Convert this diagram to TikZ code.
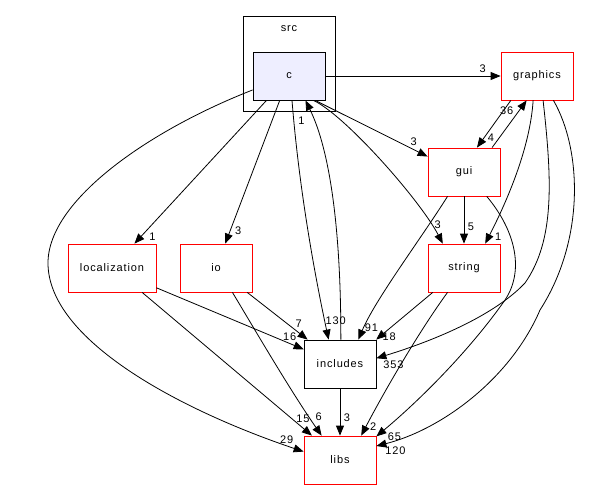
\documentclass[tikz,border=0pt]{standalone}
\usepackage{fontspec}
\setmainfont{Liberation Sans}[LetterSpace=8]
\usetikzlibrary{arrows.meta,positioning}

\begin{document}
\begin{tikzpicture}[x=1pt,y=-1pt,node distance=96pt,on grid,
  >={Triangle[length=10pt,width=8pt]},line width=0.8pt,
  font=\fontsize{11}{13}\selectfont]
 \tikzset{dir/.style={draw=red,minimum width=72pt,minimum height=48pt,inner sep=0pt},
  lbl/.style={inner sep=0pt,font=\fontsize{11}{13}\selectfont}}
\useasboundingbox (0,0) rectangle (590,499);

\node[draw,minimum width=92pt,minimum height=95pt,anchor=north west] (src) at (243,16) {};
\node (srcname) at (289,29) {src};
\node[draw,fill={rgb,255:red,238;green,238;blue,255},minimum width=72pt,minimum height=48pt] (c) at (289,76) {c};
\node[dir] (graphics) [right=248pt of c] {graphics};
\node[dir] (gui) [below left=96pt and 73pt of graphics] {gui};
\node[dir] (string) [below=of gui] {string};
\node[draw,minimum width=72pt,minimum height=48pt] (includes) [below left=96pt and 124pt of string] {includes};
\node[dir] (libs) [below=of includes] {libs};
\node[dir] (io) [left=248pt of string] {io};
\node[dir,minimum width=88pt] (localization) [left=104pt of io] {localization};

% from c
\draw[->] (c) -- (graphics) node[lbl,at end,shift={(-18,-7)}] {3};
\draw[->] (c.-43) -- (gui.157) node[lbl,at end,shift={(-14,-15)}] {3};
\draw[->] (c.-45) .. controls (345,115) and (420,200) .. (string.131) node[lbl,at end,shift={(-5,-19)}] {3};
\draw[->] (c) -- (localization) node[lbl,at end,shift={(18,-7)}] {1};
\draw[->] (c) -- (io) node[lbl,at end,shift={(13,-13)}] {3};
\draw[->] (c.-83) .. controls (300,200) and (318,290) .. (includes.115) node[lbl,at end,shift={(7,-19)}] {130};
\draw[->] (c.-159) .. controls (150,130) and (48,200) .. (48,263) .. controls (48,340) and (180,410) .. (libs.167) node[lbl,at end,shift={(-17,-12)}] {29};
\draw[->] (includes.88) .. controls (341,230) and (330,150) .. (c.-56) node[lbl,at end,shift={(-4,20)}] {1};

% from graphics and gui
\draw[->] (graphics.-137) -- (gui.62) node[lbl,at end,shift={(14,-10)}] {4};
\draw[->] (gui.41) -- (graphics.-113) node[lbl,at end,shift={(-20,10)}] {36};
\draw[->] (graphics.-99) .. controls (530,150) and (505,205) .. (string.49) node[lbl,at end,shift={(13,-7)}] {1};
\draw[->] (graphics.-76) .. controls (552,180) and (555,240) .. (525,283) .. controls (490,320) and (420,345) .. (includes.9) node[lbl,at end,shift={(17,6)}] {353};
\draw[->] (graphics.-56) .. controls (582,150) and (585,240) .. (540,310) .. controls (510,380) and (440,430) .. (libs.21) node[lbl,at end,shift={(19,5)}] {120};
\draw[->] (gui) -- (string) node[lbl,at end,shift={(7,-17)}] {5};
\draw[->] (gui.-124) .. controls (420,240) and (375,300) .. (includes.53) node[lbl,at end,shift={(13,-12)}] {91};
\draw[->] (gui.-47) .. controls (515,230) and (525,270) .. (505,300) .. controls (470,350) and (420,400) .. (libs.33) node[lbl,at end,shift={(18,0)}] {65};

% the rest
\draw[->] (string.-142) -- (includes.34) node[lbl,at end,shift={(13,-3)}] {18};
\draw[->] (string.-124) .. controls (420,330) and (385,390) .. (libs.49) node[lbl,at end,shift={(12,-9)}] {2};
\draw[->] (includes) -- (libs) node[lbl,at end,shift={(7,-18)}] {3};
\draw[->] (localization.-24) -- (includes.158) node[lbl,at end,shift={(-14,-13)}] {16};
\draw[->] (localization.-39) -- (libs.139) node[lbl,at end,shift={(-9,-17)}] {15};
\draw[->] (io.-38) -- (includes.143) node[lbl,at end,shift={(-9,-16)}] {7};
\draw[->] (io.-56) .. controls (255,330) and (290,390) .. (libs.127) node[lbl,at end,shift={(-3,-19)}] {6};

\end{tikzpicture}
\end{document}
